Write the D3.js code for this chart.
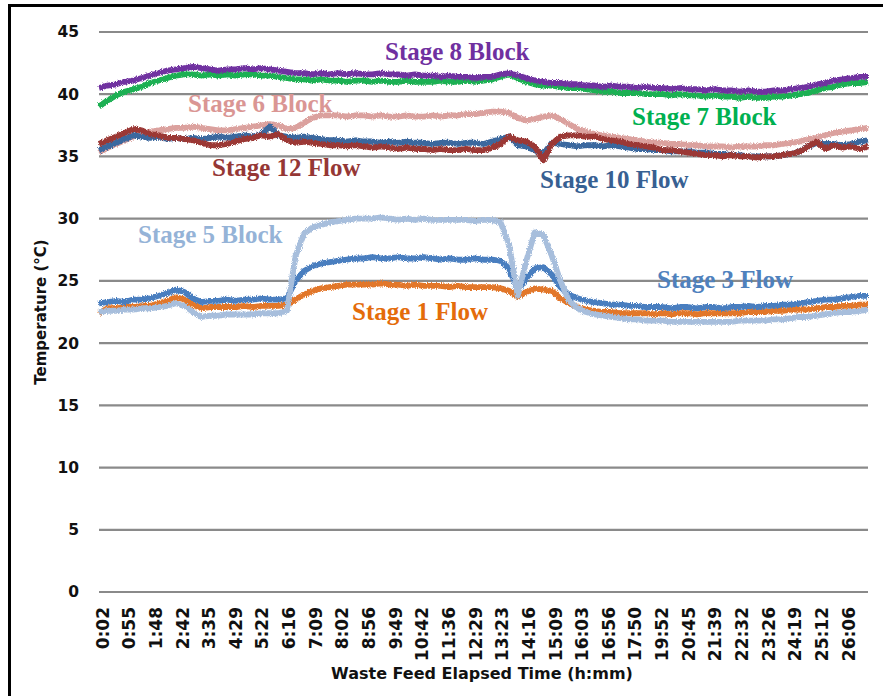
<!DOCTYPE html>
<html>
<head>
<meta charset="utf-8">
<script src="https://cdn.jsdelivr.net/npm/d3@7"></script>
<style>
  html, body { margin: 0; padding: 0; background: #fff; }
  svg { display: block; }
</style>
</head>
<body>
<svg id="chart" width="883" height="696"></svg>
<script>
// Category labels shown under the time axis (h:mm)
const tickLabels = ["0:02","0:55","1:48","2:42","3:35","4:29","5:22","6:16","7:09","8:02",
  "8:56","9:49","10:42","11:36","12:29","13:23","14:16","15:09","16:03","16:56",
  "17:50","19:52","20:45","21:39","22:32","23:26","24:19","25:12","26:06"];

const yTicks = [0, 5, 10, 15, 20, 25, 30, 35, 40, 45];

// Temperature readings (°C), evenly spaced samples across the run
const stage1Flow = [22.4,22.8,22.8,22.9,22.9,23.0,23.0,23.2,23.4,23.7,23.5,23.1,22.8,22.9,22.9,22.9,22.9,23.0,22.9,23.0,
  23.0,23.0,23.1,23.5,23.9,24.2,24.4,24.5,24.6,24.7,24.7,24.7,24.7,24.8,24.7,24.7,24.6,24.7,24.6,24.6,
  24.6,24.5,24.6,24.5,24.5,24.5,24.5,24.4,24.2,23.7,24.1,24.4,24.3,24.2,23.6,23.2,22.9,22.7,22.6,22.5,
  22.5,22.4,22.4,22.4,22.4,22.3,22.4,22.3,22.4,22.4,22.3,22.4,22.4,22.4,22.4,22.4,22.5,22.5,22.5,22.6,
  22.6,22.7,22.7,22.7,22.8,22.9,22.9,23.0,23.0,23.1,23.1];

const stage3Flow = [23.2,23.3,23.4,23.3,23.5,23.5,23.6,23.8,24.0,24.3,24.1,23.6,23.3,23.4,23.4,23.5,23.4,23.5,23.5,23.6,
  23.5,23.5,23.6,25.0,25.8,26.2,26.4,26.5,26.6,26.7,26.8,26.8,26.9,26.8,26.8,26.9,26.8,26.8,26.9,26.8,
  26.7,26.8,26.7,26.7,26.8,26.7,26.7,26.6,26.0,24.2,25.2,26.0,26.1,25.5,24.5,23.9,23.6,23.4,23.3,23.2,
  23.1,23.1,23.0,23.0,22.9,22.9,22.9,22.8,22.9,22.9,22.8,22.9,22.9,22.8,22.9,22.9,23.0,22.9,23.0,23.0,
  23.1,23.1,23.2,23.3,23.4,23.5,23.5,23.6,23.7,23.8,23.8];

const stage5Block = [22.5,22.6,22.6,22.7,22.7,22.8,22.8,22.9,23.0,23.2,23.0,22.5,22.1,22.2,22.2,22.3,22.3,22.3,22.3,22.4,
  22.4,22.4,22.6,27.0,28.8,29.3,29.5,29.7,29.8,29.9,30.0,30.0,30.0,30.1,30.0,29.9,30.0,29.9,30.0,29.9,
  29.9,29.9,29.9,29.9,29.8,29.9,29.9,29.7,27.9,23.8,26.6,28.9,28.7,27.0,25.0,23.4,22.8,22.5,22.3,22.2,
  22.1,22.0,21.9,21.9,21.8,21.8,21.8,21.7,21.7,21.7,21.7,21.7,21.7,21.7,21.7,21.8,21.8,21.8,21.8,21.9,
  21.9,22.0,22.1,22.1,22.2,22.3,22.4,22.5,22.5,22.6,22.7];

const stage6Block = [35.3,35.7,36.0,36.3,36.6,36.8,37.0,37.1,37.2,37.3,37.3,37.4,37.3,37.2,37.1,37.1,37.2,37.3,37.4,37.5,
  37.6,37.5,37.2,37.3,37.7,38.1,38.3,38.3,38.3,38.2,38.3,38.3,38.2,38.3,38.2,38.2,38.3,38.2,38.2,38.3,
  38.2,38.3,38.3,38.4,38.4,38.5,38.6,38.6,38.5,38.1,37.9,38.0,38.2,38.3,38.0,37.6,37.2,37.0,36.8,36.7,
  36.6,36.5,36.4,36.3,36.2,36.1,36.1,36.0,36.0,35.9,35.9,35.8,35.8,35.8,35.7,35.8,35.8,35.8,35.9,35.9,
  36.0,36.1,36.2,36.4,36.5,36.7,36.9,37.0,37.1,37.2,37.3];

const stage7Block = [39.0,39.5,39.9,40.2,40.4,40.6,40.9,41.1,41.3,41.5,41.6,41.6,41.5,41.6,41.5,41.6,41.5,41.6,41.6,41.5,
  41.5,41.4,41.3,41.2,41.2,41.1,41.2,41.1,41.1,41.0,41.1,41.1,41.0,41.1,41.0,41.0,41.1,41.0,41.0,41.0,
  41.1,41.0,41.0,41.1,41.0,41.1,41.2,41.4,41.6,41.3,41.0,40.8,40.7,40.7,40.6,40.5,40.5,40.4,40.3,40.2,
  40.2,40.1,40.1,40.1,40.0,40.0,40.0,39.9,40.0,39.9,39.9,39.8,39.9,39.8,39.8,39.7,39.8,39.7,39.7,39.8,
  39.8,39.9,40.0,40.1,40.3,40.5,40.6,40.8,40.9,40.9,41.0];

const stage8Block = [40.5,40.7,40.8,41.0,41.1,41.3,41.5,41.7,41.9,42.0,42.1,42.2,42.1,42.0,41.9,42.0,42.0,42.1,42.0,42.1,
  42.0,41.9,41.8,41.7,41.7,41.6,41.7,41.6,41.7,41.6,41.7,41.6,41.6,41.7,41.6,41.6,41.5,41.6,41.5,41.5,
  41.4,41.5,41.4,41.4,41.3,41.4,41.4,41.6,41.7,41.5,41.3,41.1,41.0,40.9,40.9,40.8,40.8,40.7,40.7,40.6,
  40.7,40.6,40.6,40.5,40.6,40.5,40.5,40.4,40.5,40.4,40.4,40.3,40.4,40.3,40.3,40.2,40.3,40.2,40.2,40.3,
  40.3,40.4,40.5,40.6,40.8,40.9,41.1,41.2,41.3,41.4,41.4];

const stage10Flow = [35.5,35.8,36.1,36.4,36.7,36.6,36.5,36.6,36.4,36.5,36.4,36.5,36.4,36.5,36.6,36.5,36.6,36.7,36.6,36.8,
  37.4,36.7,36.6,36.5,36.6,36.5,36.4,36.3,36.3,36.2,36.3,36.2,36.2,36.1,36.2,36.1,36.2,36.1,36.1,36.0,
  36.1,36.1,36.0,36.1,36.1,36.0,36.2,36.4,36.6,35.9,35.8,35.5,35.2,36.1,36.0,35.9,35.8,35.9,35.9,35.8,
  35.9,35.8,35.7,35.6,35.6,35.5,35.5,35.4,35.4,35.4,35.3,35.3,35.2,35.2,35.1,35.1,35.0,35.0,35.0,35.0,
  35.1,35.2,35.4,35.8,36.1,36.0,36.0,35.9,36.0,36.2,36.3];

const stage12Flow = [36.0,36.3,36.6,36.9,37.2,37.1,36.8,36.7,36.5,36.5,36.4,36.3,36.1,35.9,35.9,36.0,36.2,36.4,36.5,36.7,
  36.6,36.8,36.3,36.1,36.2,36.1,36.0,35.9,35.9,35.8,35.9,35.8,35.7,35.8,35.7,35.6,35.7,35.6,35.6,35.5,
  35.6,35.5,35.5,35.6,35.5,35.5,35.7,36.0,36.6,36.3,36.2,35.8,34.7,36.0,36.6,36.7,36.7,36.6,36.6,36.4,
  36.3,36.2,36.0,35.9,35.8,35.7,35.5,35.5,35.4,35.3,35.2,35.1,35.1,35.0,35.1,35.0,35.0,34.9,35.0,35.0,
  35.1,35.2,35.4,35.8,36.2,35.6,35.9,35.7,35.8,35.6,35.8];

// Series in drawing order (later ones sit on top), with line and label styling
const series = [
  { name: "Stage 1 Flow",  values: stage1Flow,  color: "#E2772A", label: "#E46C0A", lx: 352, ly: 320 },
  { name: "Stage 3 Flow",  values: stage3Flow,  color: "#4A7EBF", label: "#4F81BD", lx: 657, ly: 288 },
  { name: "Stage 5 Block", values: stage5Block, color: "#A7BEDC", label: "#95B3D7", lx: 138, ly: 243 },
  { name: "Stage 6 Block", values: stage6Block, color: "#DBA19E", label: "#DA9694", lx: 188, ly: 112 },
  { name: "Stage 7 Block", values: stage7Block, color: "#1BB052", label: "#00B050", lx: 632, ly: 125 },
  { name: "Stage 8 Block", values: stage8Block, color: "#7030A0", label: "#7030A0", lx: 385, ly: 60 },
  { name: "Stage 10 Flow", values: stage10Flow, color: "#3B679E", label: "#376092", lx: 540, ly: 188 },
  { name: "Stage 12 Flow", values: stage12Flow, color: "#9B3936", label: "#953735", lx: 212, ly: 176 }
];

const svg = d3.select("#chart");
const W = 883, H = 696;
const plot = { left: 99, right: 868, top: 32, bottom: 592 };
const nSamples = stage1Flow.length;

const x = d3.scaleLinear().domain([0, nSamples - 1]).range([plot.left, plot.right]);
const y = d3.scaleLinear().domain([0, 45]).range([plot.bottom, plot.top]);

// category label positions expressed in sample units
const tickPos = tickLabels.map((_, k) => 0.35 + k * 3.118);

// outer frame (left and top edges visible)
svg.append("path")
  .attr("d", `M9.5,${H + 5} L9.5,5.5 L${W + 5},5.5`)
  .attr("fill", "none").attr("stroke", "#000").attr("stroke-width", 3);

// rough edge texture for the logged traces
const defs = svg.append("defs");
const f = defs.append("filter").attr("id", "rough")
  .attr("x", "-2%").attr("y", "-10%").attr("width", "104%").attr("height", "120%");
f.append("feTurbulence").attr("type", "fractalNoise").attr("baseFrequency", "0.8 1.0")
  .attr("numOctaves", 2).attr("seed", 4).attr("result", "noise");
f.append("feDisplacementMap").attr("in", "SourceGraphic").attr("in2", "noise")
  .attr("scale", 5).attr("xChannelSelector", "R").attr("yChannelSelector", "G");

// horizontal gridlines
svg.append("g").selectAll("line").data(yTicks).join("line")
  .attr("x1", plot.left).attr("x2", plot.right)
  .attr("y1", d => y(d)).attr("y2", d => y(d))
  .attr("stroke", "#8a8a8a").attr("stroke-width", 2.2);

// y axis labels
const yAxis = svg.append("g").attr("transform", `translate(${plot.left - 20},0)`)
  .call(d3.axisLeft(y).tickValues(yTicks).tickSize(0).tickPadding(0));
yAxis.select(".domain").remove();
yAxis.selectAll("text")
  .attr("font-family", "DejaVu Sans").attr("font-weight", "bold")
  .attr("font-size", 15.5).attr("fill", "#111");

// x axis labels (rotated)
const xAxis = svg.append("g").attr("transform", `translate(0,${plot.bottom})`)
  .call(d3.axisBottom(x).tickValues(tickPos).tickSize(0)
    .tickFormat((d, i) => tickLabels[i]));
xAxis.select(".domain").remove();
xAxis.selectAll("text")
  .attr("font-family", "DejaVu Sans").attr("font-weight", "bold")
  .attr("font-size", 17).attr("fill", "#111")
  .attr("text-anchor", "end")
  .attr("transform", "rotate(-90)")
  .attr("x", -15).attr("y", 0).attr("dy", "0.36em");

// axis titles
svg.append("text")
  .attr("x", 482).attr("y", 679).attr("text-anchor", "middle")
  .attr("font-family", "DejaVu Sans").attr("font-weight", "bold").attr("font-size", 16)
  .attr("fill", "#111").text("Waste Feed Elapsed Time (h:mm)");

svg.append("text")
  .attr("transform", "translate(46,312) rotate(-90)").attr("text-anchor", "middle")
  .attr("font-family", "DejaVu Sans").attr("font-weight", "bold").attr("font-size", 15)
  .attr("fill", "#111").text("Temperature (°C)");

// traces
const line = d3.line().x((d, i) => x(i)).y(d => y(d));
svg.append("g").attr("filter", "url(#rough)")
  .selectAll("path").data(series).join("path")
  .attr("d", d => line(d.values))
  .attr("fill", "none").attr("stroke", d => d.color)
  .attr("stroke-width", 5.8).attr("stroke-linejoin", "round").attr("stroke-linecap", "butt");

// series labels
svg.append("g").selectAll("text").data(series).join("text")
  .attr("x", d => d.lx).attr("y", d => d.ly)
  .attr("font-family", "Liberation Serif").attr("font-weight", "bold").attr("font-size", 25)
  .attr("fill", d => d.label).text(d => d.name);
</script>
</body>
</html>
